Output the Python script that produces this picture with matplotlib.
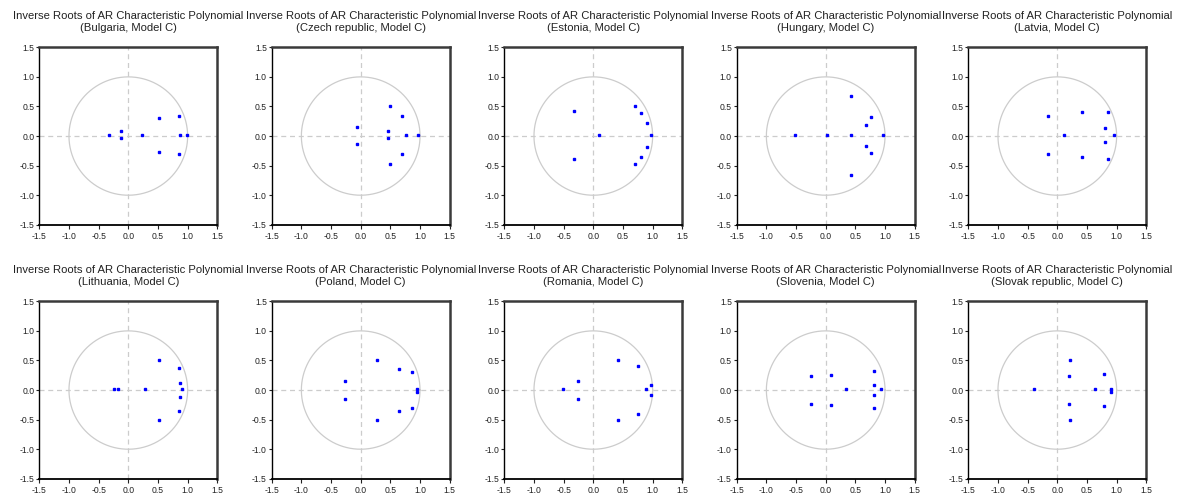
import numpy as np
import matplotlib
matplotlib.use("Agg")
import matplotlib.pyplot as plt

plt.rcParams['font.family'] = ['Liberation Sans', 'DejaVu Sans']

countries = ["Bulgaria", "Czech republic", "Estonia", "Hungary", "Latvia",
             "Lithuania", "Poland", "Romania", "Slovenia", "Slovak republic"]

bulgaria_re = [-0.32, -0.13, -0.13, 0.23, 0.52, 0.52, 0.86, 0.86, 0.87, 0.99]
bulgaria_im = [0.01, 0.08, -0.04, 0.01, 0.31, -0.27, 0.34, -0.30, 0.01, 0.01]

czech_re = [-0.06, -0.06, 0.49, 0.49, 0.46, 0.46, 0.70, 0.70, 0.77, 0.97]
czech_im = [0.16, -0.13, 0.51, -0.48, 0.08, -0.04, 0.34, -0.30, 0.01, 0.01]

estonia_re = [-0.33, -0.33, 0.09, 0.71, 0.71, 0.80, 0.80, 0.91, 0.91, 0.97]
estonia_im = [0.43, -0.39, 0.01, 0.50, -0.47, 0.39, -0.35, 0.22, -0.18, 0.01]

hungary_re = [-0.51, 0.03, 0.43, 0.43, 0.43, 0.76, 0.76, 0.68, 0.68, 0.96]
hungary_im = [0.01, 0.01, 0.01, 0.68, -0.65, 0.32, -0.29, 0.19, -0.16, 0.01]

latvia_re = [-0.15, -0.15, 0.12, 0.42, 0.42, 0.85, 0.85, 0.81, 0.81, 0.96]
latvia_im = [0.34, -0.31, 0.01, 0.40, -0.36, 0.41, -0.38, 0.13, -0.10, 0.01]

lithuania_re = [-0.24, -0.18, 0.28, 0.51, 0.51, 0.86, 0.86, 0.87, 0.87, 0.91]
lithuania_im = [0.01, 0.01, 0.01, 0.50, -0.50, 0.37, -0.36, 0.12, -0.11, 0.01]

poland_re = [-0.27, -0.27, 0.28, 0.28, 0.64, 0.64, 0.86, 0.86, 0.95, 0.95]
poland_im = [0.15, -0.15, 0.51, -0.51, 0.36, -0.36, 0.30, -0.30, 0.02, -0.03]

romania_re = [-0.51, -0.25, -0.25, 0.41, 0.41, 0.75, 0.75, 0.89, 0.97, 0.97]
romania_im = [0.01, 0.15, -0.15, 0.51, -0.51, 0.41, -0.41, 0.01, 0.09, -0.09]

slovenia_re = [-0.25, -0.25, 0.09, 0.09, 0.34, 0.82, 0.82, 0.82, 0.82, 0.94]
slovenia_im = [0.23, -0.23, 0.26, -0.26, 0.01, 0.32, -0.31, 0.09, -0.08, 0.01]

slovak_re = [-0.40, 0.19, 0.19, 0.22, 0.22, 0.64, 0.79, 0.79, 0.91, 0.91]
slovak_im = [0.01, 0.24, -0.23, 0.50, -0.50, 0.01, 0.27, -0.27, 0.02, -0.03]

roots_re = [bulgaria_re, czech_re, estonia_re, hungary_re, latvia_re,
            lithuania_re, poland_re, romania_re, slovenia_re, slovak_re]
roots_im = [bulgaria_im, czech_im, estonia_im, hungary_im, latvia_im,
            lithuania_im, poland_im, romania_im, slovenia_im, slovak_im]

tick_vals = [-1.5, -1.0, -0.5, 0.0, 0.5, 1.0, 1.5]
tick_labels = ["-1.5", "-1.0", "-0.5", "0.0", "0.5", "1.0", "1.5"]

W, H = 1184, 496
fig = plt.figure(figsize=(W / 100, H / 100), dpi=100)

lefts = [39.3, 271.7, 504.3, 736.7, 968.3]
tops = [47.3, 301.3]
aw, ah = 178.0, 177.5

theta = np.linspace(0, 2 * np.pi, 400)

for i, name in enumerate(countries):
    r, c = divmod(i, 5)
    ax = fig.add_axes([lefts[c] / W, 1 - (tops[r] + ah) / H, aw / W, ah / H])
    ax.set_xlim(-1.5, 1.5)
    ax.set_ylim(-1.5, 1.5)
    ax.plot(np.cos(theta), np.sin(theta), color='#cccccc', lw=0.9, zorder=1)
    ax.axhline(0, color='#cccccc', lw=0.9, ls=(0, (4, 3)), zorder=1)
    ax.axvline(0, color='#cccccc', lw=0.9, ls=(0, (4, 3)), zorder=1)
    ax.plot(roots_re[i], roots_im[i], ls='none', marker='s', ms=1.6,
            color='#0000ff', mec='#0000ff', zorder=3)
    ax.set_xticks(tick_vals)
    ax.set_xticklabels(tick_labels)
    ax.set_yticks(tick_vals)
    ax.set_yticklabels(tick_labels)
    ax.tick_params(axis='both', labelsize=6.2, width=0.8,
                   colors='#222222', direction='out')
    ax.tick_params(axis='x', length=3, pad=2.5)
    ax.tick_params(axis='y', length=2, pad=1.5)
    for s in ['right', 'top']:
        ax.spines[s].set_linewidth(1.8)
        ax.spines[s].set_color('#3a3a3a')
    ax.spines['left'].set_linewidth(1.0)
    ax.spines['left'].set_color('#000000')
    ax.spines['bottom'].set_linewidth(1.3)
    ax.spines['bottom'].set_color('#000000')
    ax.set_title("Inverse Roots of AR Characteristic Polynomial\n(%s, Model C)" % name,
                 fontsize=8.1, color='#222222', pad=12, linespacing=1.15)

fig.savefig("out.png", dpi=100, facecolor='white')
